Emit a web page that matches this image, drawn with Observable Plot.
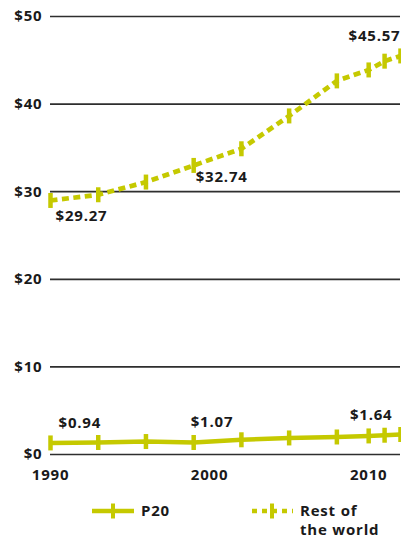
<!DOCTYPE html>
<html>
<head>
<meta charset="utf-8">
<script src="https://cdn.jsdelivr.net/npm/d3@7"></script>
<script src="https://cdn.jsdelivr.net/npm/@observablehq/plot@0.6"></script>
<style>
  html, body { margin: 0; padding: 0; background: #fff; }
  body { width: 401px; height: 538px; overflow: hidden; font-family: "Open Sans", sans-serif; }
  #chart svg text { letter-spacing: 0.8px; }
  #legend { position: relative; width: 401px; height: 52px; font: 700 15px "Open Sans", sans-serif; color: #1a1a1a; letter-spacing: 0.8px; }
  #legend .sw { position: absolute; }
  #legend .lab { position: absolute; line-height: 18.7px; }
</style>
</head>
<body>
<div id="chart"></div>
<div id="legend"></div>
<script>
const years = [1990, 1993, 1996, 1999, 2002, 2005, 2008, 2010, 2011, 2012];
const p20 = [1.32, 1.37, 1.48, 1.37, 1.68, 1.89, 2.0, 2.12, 2.2, 2.28];
const restOfWorld = [29.0, 29.65, 31.1, 33.0, 34.9, 38.65, 42.65, 43.9, 44.9, 45.5];
const yTicks = [0, 10, 20, 30, 40, 50];
const xTicks = [1990, 2000, 2010];
const labelYears = [1990, 1999, 2012];
const p20Labels = ["$0.94", "$1.07", "$1.64"];
const restLabels = ["$29.27", "$32.74", "$45.57"];
const seriesNames = ["P20", "Rest of the world"];

const color = "#c5c900";
const ink = "#1a1a1a";

const p20Data = years.map((year, i) => ({year, value: p20[i]}));
const restData = years.map((year, i) => ({year, value: restOfWorld[i]}));

const vbar = {draw(ctx) { ctx.moveTo(0, -7.5); ctx.lineTo(0, 7.5); }};

// label placement styles (per label)
const p20LabelStyle = [
  {textAnchor: "start", dx: 8, dy: -20},
  {textAnchor: "start", dx: -3, dy: -20},
  {textAnchor: "end", dx: -8, dy: -19}
];
const restLabelStyle = [
  {textAnchor: "start", dx: 5, dy: 16},
  {textAnchor: "start", dx: 2, dy: 12},
  {textAnchor: "end", dx: 0, dy: -20}
];

const labelMarks = [];
labelYears.forEach((yr, i) => {
  const k = years.indexOf(yr);
  labelMarks.push(Plot.text([{year: yr, value: p20[k], label: p20Labels[i]}],
    {x: "year", y: "value", text: "label", fill: ink, fontWeight: 700, fontSize: 15, ...p20LabelStyle[i]}));
  labelMarks.push(Plot.text([{year: yr, value: restOfWorld[k], label: restLabels[i]}],
    {x: "year", y: "value", text: "label", fill: ink, fontWeight: 700, fontSize: 15, ...restLabelStyle[i]}));
});

const chart = Plot.plot({
  width: 401,
  height: 486,
  marginTop: 16,
  marginBottom: 32,
  marginLeft: 50,
  marginRight: 1,
  style: {fontFamily: "'Open Sans', sans-serif", fontSize: "15px", fontWeight: 700, color: ink, background: "#fff", overflow: "visible"},
  x: {domain: [1990, 2012], ticks: xTicks, tickFormat: d => String(d), tickSize: 0, tickPadding: 15, label: null},
  y: {domain: [0, 50], ticks: yTicks, tickFormat: d => "$" + d, tickSize: 0, tickPadding: 8, label: null},
  marks: [
    Plot.ruleY(yTicks, {stroke: "#2e2e2e", strokeWidth: 1.7}),
    Plot.line(restData, {x: "year", y: "value", stroke: color, strokeWidth: 4.7, strokeDasharray: "7,4.5", strokeLinecap: "butt", strokeLinejoin: "miter", curve: "linear"}),
    Plot.dot(restData, {x: "year", y: "value", symbol: vbar, fill: "none", stroke: color, strokeWidth: 4.5, strokeLinecap: "butt"}),
    Plot.line(p20Data, {x: "year", y: "value", stroke: color, strokeWidth: 4.5, strokeLinecap: "butt", curve: "linear"}),
    Plot.dot(p20Data, {x: "year", y: "value", symbol: vbar, fill: "none", stroke: color, strokeWidth: 4.5, strokeLinecap: "butt"}),
    ...labelMarks
  ]
});
document.getElementById("chart").appendChild(chart);

// Legend
const legend = document.getElementById("legend");
function swatch(left, dashed) {
  const ns = "http://www.w3.org/2000/svg";
  const s = document.createElementNS(ns, "svg");
  s.setAttribute("width", 42); s.setAttribute("height", 16);
  s.setAttribute("class", "sw");
  s.style.left = left + "px"; s.style.top = "16.7px";
  const l = document.createElementNS(ns, "line");
  l.setAttribute("x1", 0); l.setAttribute("x2", 42); l.setAttribute("y1", 8); l.setAttribute("y2", 8);
  l.setAttribute("stroke", color); l.setAttribute("stroke-width", 4.5);
  if (dashed) { l.setAttribute("stroke-dasharray", "5,5"); l.setAttribute("stroke-dashoffset", "-1"); }
  s.appendChild(l);
  const t = document.createElementNS(ns, "line");
  t.setAttribute("x1", 21); t.setAttribute("x2", 21); t.setAttribute("y1", 0.5); t.setAttribute("y2", 15.5);
  t.setAttribute("stroke", color); t.setAttribute("stroke-width", 4);
  s.appendChild(t);
  return s;
}
legend.appendChild(swatch(92, false));
legend.appendChild(swatch(251, true));
const l1 = document.createElement("div");
l1.className = "lab"; l1.style.left = "141px"; l1.style.top = "15.4px";
l1.textContent = seriesNames[0];
legend.appendChild(l1);
const l2 = document.createElement("div");
l2.className = "lab"; l2.style.left = "300px"; l2.style.top = "15.4px"; l2.style.width = "100px";
l2.innerHTML = "Rest of<br>the world";
legend.appendChild(l2);
</script>
</body>
</html>
